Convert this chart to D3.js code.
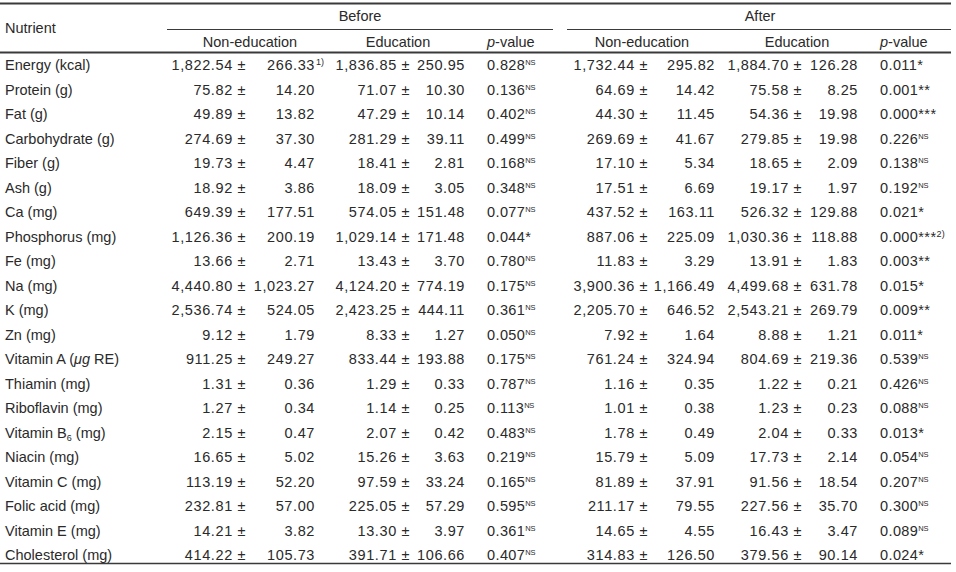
<!DOCTYPE html>
<html><head><meta charset="utf-8">
<script src="https://cdn.jsdelivr.net/npm/d3@7"></script>
<style>
html,body{margin:0;padding:0;background:#fff;}
svg{display:block;}
text{font-family:"Liberation Sans",Arial,sans-serif;fill:#2a2a2a;}
</style></head>
<body>
<script>
const nutrients = ["Energy (kcal)","Protein (g)","Fat (g)","Carbohydrate (g)","Fiber (g)","Ash (g)","Ca (mg)","Phosphorus (mg)","Fe (mg)","Na (mg)","K (mg)","Zn (mg)","Vitamin A (μg RE)","Thiamin (mg)","Riboflavin (mg)","Vitamin B6 (mg)","Niacin (mg)","Vitamin C (mg)","Folic acid (mg)","Vitamin E (mg)","Cholesterol (mg)"];
const beforeNonEduMean = [1822.54,75.82,49.89,274.69,19.73,18.92,649.39,1126.36,13.66,4440.80,2536.74,9.12,911.25,1.31,1.27,2.15,16.65,113.19,232.81,14.21,414.22];
const beforeNonEduSD   = [266.33,14.20,13.82,37.30,4.47,3.86,177.51,200.19,2.71,1023.27,524.05,1.79,249.27,0.36,0.34,0.47,5.02,52.20,57.00,3.82,105.73];
const beforeEduMean    = [1836.85,71.07,47.29,281.29,18.41,18.09,574.05,1029.14,13.43,4124.20,2423.25,8.33,833.44,1.29,1.14,2.07,15.26,97.59,225.05,13.30,391.71];
const beforeEduSD      = [250.95,10.30,10.14,39.11,2.81,3.05,151.48,171.48,3.70,774.19,444.11,1.27,193.88,0.33,0.25,0.42,3.63,33.24,57.29,3.97,106.66];
const beforeP          = ["0.828","0.136","0.402","0.499","0.168","0.348","0.077","0.044","0.780","0.175","0.361","0.050","0.175","0.787","0.113","0.483","0.219","0.165","0.595","0.361","0.407"];
const beforeSig        = ["NS","NS","NS","NS","NS","NS","NS","*","NS","NS","NS","NS","NS","NS","NS","NS","NS","NS","NS","NS","NS"];
const afterNonEduMean  = [1732.44,64.69,44.30,269.69,17.10,17.51,437.52,887.06,11.83,3900.36,2205.70,7.92,761.24,1.16,1.01,1.78,15.79,81.89,211.17,14.65,314.83];
const afterNonEduSD    = [295.82,14.42,11.45,41.67,5.34,6.69,163.11,225.09,3.29,1166.49,646.52,1.64,324.94,0.35,0.38,0.49,5.09,37.91,79.55,4.55,126.50];
const afterEduMean     = [1884.70,75.58,54.36,279.85,18.65,19.17,526.32,1030.36,13.91,4499.68,2543.21,8.88,804.69,1.22,1.23,2.04,17.73,91.56,227.56,16.43,379.56];
const afterEduSD       = [126.28,8.25,19.98,19.98,2.09,1.97,129.88,118.88,1.83,631.78,269.79,1.21,219.36,0.21,0.23,0.33,2.14,18.54,35.70,3.47,90.14];
const afterP           = ["0.011","0.001","0.000","0.226","0.138","0.192","0.021","0.000","0.003","0.015","0.009","0.011","0.539","0.426","0.088","0.013","0.054","0.207","0.300","0.089","0.024"];
const afterSig         = ["*","**","***","NS","NS","NS","*","***","**","*","**","*","NS","NS","NS","*","NS","NS","NS","NS","*"];
const groupLabels = ["Before","After"];
const subLabels = ["Non-education","Education","p-value"];
const footnoteSD = {0:"1)"};      // footnote on first SD (before, non-education)
const footnoteAfterP = {7:"2)"};  // footnote on after p-value of phosphorus

const W = 956, H = 572, FS = 14.5;
const fmt = d3.format(",.2f");
const svg = d3.select("body").append("svg").attr("width",W).attr("height",H);

const y = d3.scaleBand().domain(nutrients).range([53, 567.5]);
const yc = n => y(n) + y.bandwidth()/2;
const base = c => c + FS*0.35;

// horizontal rules
const ink = "#3a3a3a";
function rule(x1,x2,yy,w){ svg.append("line").attr("x1",x1).attr("x2",x2).attr("y1",yy).attr("y2",yy).attr("stroke",ink).attr("stroke-width",w); }
rule(0,951,3.5,2);
rule(167,553,29.5,1.2);
rule(567,951,29.5,1.2);
rule(0,951,52.5,2);
rule(0,951,563.5,1.5);

// header text
const groupCenters = [360, 760];
groupLabels.forEach((g,i)=>svg.append("text").attr("x",groupCenters[i]).attr("y",base(16)).attr("text-anchor","middle").attr("font-size",FS).text(g));
svg.append("text").attr("x",5).attr("y",base(28)).attr("font-size",FS).text("Nutrient");
const subPos = [[250,"middle"],[398,"middle"],[487,"start"],[642,"middle"],[797,"middle"],[880,"start"]];
subPos.forEach(([x,a],i)=>{
  const lab = subLabels[i%3];
  const t = svg.append("text").attr("x",x).attr("y",base(42)).attr("text-anchor",a).attr("font-size",FS);
  if(lab==="p-value"){ t.append("tspan").attr("font-style","italic").text("p"); t.append("tspan").text("-value"); }
  else t.text(lab);
});

// nutrient labels
const rows = svg.selectAll("g.row").data(nutrients).join("g").attr("class","row");
rows.each(function(n,i){
  const g = d3.select(this);
  const t = g.append("text").attr("x",5).attr("y",base(yc(n))).attr("font-size",FS);
  if(n.includes("μg")){
    t.append("tspan").text("Vitamin A (");
    t.append("tspan").attr("font-style","italic").text("μg");
    t.append("tspan").text(" RE)");
  } else if(n.includes("B6")){
    t.append("tspan").text("Vitamin B");
    t.append("tspan").attr("font-size",9).attr("dy",3).text("6");
    t.append("tspan").attr("dy",-3).text(" (mg)");
  } else t.text(n);
});

// numeric columns
const numCols = [
  {mean:beforeNonEduMean, sd:beforeNonEduSD, pmX:246, sdX:315, fn:footnoteSD},
  {mean:beforeEduMean,    sd:beforeEduSD,    pmX:410, sdX:465, fn:{}},
  {mean:afterNonEduMean,  sd:afterNonEduSD,  pmX:648, sdX:715, fn:{}},
  {mean:afterEduMean,     sd:afterEduSD,     pmX:802, sdX:858, fn:{}}
];
numCols.forEach(col=>{
  nutrients.forEach((n,i)=>{
    const yy = base(yc(n));
    svg.append("text").attr("x",col.pmX).attr("y",yy).attr("text-anchor","end").attr("font-size",FS)
      .attr("letter-spacing",0.6).text(fmt(col.mean[i]) + " ±");
    svg.append("text").attr("x",col.sdX).attr("y",yy).attr("text-anchor","end").attr("font-size",FS)
      .attr("letter-spacing",0.6).text(fmt(col.sd[i]));
    if(col.fn[i]) svg.append("text").attr("x",col.sdX+1).attr("y",yy-5).attr("font-size",9).text(col.fn[i]);
  });
});

// p-values
function pCol(ps, sigs, x, fn){
  nutrients.forEach((n,i)=>{
    const t = svg.append("text").attr("x",x).attr("y",base(yc(n))).attr("font-size",FS).attr("letter-spacing",0.4);
    t.append("tspan").text(ps[i]);
    if(sigs[i]==="NS") t.append("tspan").attr("font-size",7.5).attr("dy",-5).attr("letter-spacing",-0.3).text("NS");
    else {
      t.append("tspan").text(sigs[i]);
      if(fn[i]) t.append("tspan").attr("font-size",9).attr("dy",-5).text(fn[i]);
    }
  });
}
pCol(beforeP, beforeSig, 487, {});
pCol(afterP, afterSig, 880, footnoteAfterP);
</script>
</body></html>
